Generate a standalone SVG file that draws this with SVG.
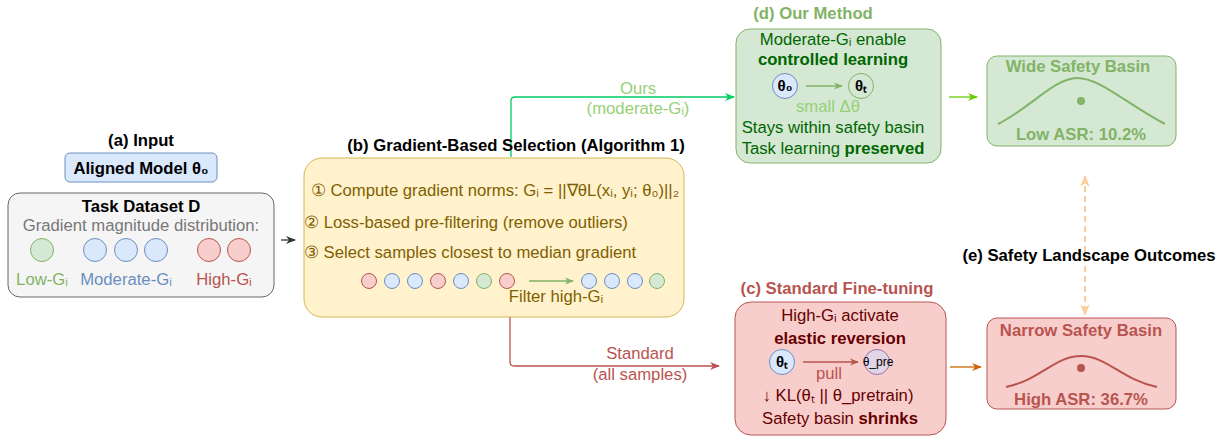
<svg xmlns="http://www.w3.org/2000/svg" width="1225" height="437" viewBox="0 0 1225 437">
<defs>
<style>
text{font-family:"Liberation Sans",Arial,sans-serif;font-size:16.7px;text-anchor:middle}
.b{font-weight:bold}
.blk{fill:#000}
.ol{fill:#7f6000}
.dg{fill:#006600}
.dr{fill:#660000}
.th{font-size:15px;font-weight:bold;fill:#000}
</style>
<marker id="mkG" viewBox="0 0 10 10" refX="9" refY="5" markerWidth="10" markerHeight="10" orient="auto" markerUnits="userSpaceOnUse"><path d="M0,1 L10,5 L0,9 L3,5 Z" fill="#00cc66"/></marker>
<marker id="mkR" viewBox="0 0 10 10" refX="9" refY="5" markerWidth="10" markerHeight="10" orient="auto" markerUnits="userSpaceOnUse"><path d="M0,1 L10,5 L0,9 L3,5 Z" fill="#b85450"/></marker>
<marker id="mkK" viewBox="0 0 10 10" refX="9" refY="5" markerWidth="10" markerHeight="10" orient="auto" markerUnits="userSpaceOnUse"><path d="M0,1 L10,5 L0,9 L3,5 Z" fill="#333"/></marker>
<marker id="mkL" viewBox="0 0 10 10" refX="9" refY="5" markerWidth="10" markerHeight="10" orient="auto" markerUnits="userSpaceOnUse"><path d="M0,1 L10,5 L0,9 L3,5 Z" fill="#66cc00"/></marker>
<marker id="mkO" viewBox="0 0 10 10" refX="9" refY="5" markerWidth="10" markerHeight="10" orient="auto" markerUnits="userSpaceOnUse"><path d="M0,1 L10,5 L0,9 L3,5 Z" fill="#cc6600"/></marker>
<marker id="mkP" viewBox="0 0 10 10" refX="9" refY="5" markerWidth="12" markerHeight="12" orient="auto-start-reverse" markerUnits="userSpaceOnUse"><path d="M0,1 L10,5 L0,9 L3,5 Z" fill="#ffcc99"/></marker>
<marker id="mkS" viewBox="0 0 10 10" refX="9" refY="5" markerWidth="9" markerHeight="9" orient="auto" markerUnits="userSpaceOnUse"><path d="M0,1 L10,5 L0,9 L3,5 Z" fill="#82b366"/></marker>
<marker id="mkSR" viewBox="0 0 10 10" refX="9" refY="5" markerWidth="9" markerHeight="9" orient="auto" markerUnits="userSpaceOnUse"><path d="M0,1 L10,5 L0,9 L3,5 Z" fill="#b85450"/></marker>
</defs>
<rect width="1225" height="437" fill="#fff"/>

<g id="connectors" fill="none" stroke-width="1.3">
<path d="M511,157 V101 Q511,97 515,97 H734" stroke="#00cc66" marker-end="url(#mkG)"/>
<path d="M510,317 V362 Q510,366 514,366 H719" stroke="#b85450" marker-end="url(#mkR)"/>
<path d="M281,240 H295" stroke="#333" marker-end="url(#mkK)"/>
<path d="M949,97 H977" stroke="#66cc00" marker-end="url(#mkL)"/>
<path d="M950,367 H981" stroke="#cc6600" marker-end="url(#mkO)"/>
<path d="M1085,176 V315" stroke="#ffcc99" stroke-width="2" stroke-dasharray="6,4" marker-start="url(#mkP)" marker-end="url(#mkP)"/>
<text x="638" y="94" fill="#97d077" stroke="none">Ours</text>
<text x="638" y="114" fill="#97d077" stroke="none">(moderate-Gᵢ)</text>
<text x="640" y="359" fill="#b85450" stroke="none">Standard</text>
<text x="640" y="380" fill="#b85450" stroke="none">(all samples)</text>
</g>

<g id="input">
<text x="141" y="146" class="b blk">(a) Input</text>
<rect x="65" y="153" width="152" height="29" rx="5" fill="#dae8fc" stroke="#6c8ebf"/>
<text x="141" y="174" class="b blk">Aligned Model θ₀</text>
</g>

<g id="dataset">
<rect x="8" y="193" width="266" height="104" rx="12" fill="#f5f5f5" stroke="#666"/>
<text x="141" y="212" class="b blk">Task Dataset D</text>
<text x="141" y="231" fill="#777">Gradient magnitude distribution:</text>
<circle cx="42" cy="250" r="11.5" fill="#d5e8d4" stroke="#82b366"/>
<circle cx="95" cy="250" r="11.5" fill="#dae8fc" stroke="#6c8ebf"/>
<circle cx="126" cy="250" r="11.5" fill="#dae8fc" stroke="#6c8ebf"/>
<circle cx="156" cy="250" r="11.5" fill="#dae8fc" stroke="#6c8ebf"/>
<circle cx="209" cy="250" r="11.5" fill="#f8cecc" stroke="#b85450"/>
<circle cx="239" cy="250" r="11.5" fill="#f8cecc" stroke="#b85450"/>
<text x="42" y="285" fill="#82b366">Low-Gᵢ</text>
<text x="126" y="285" fill="#6c8ebf">Moderate-Gᵢ</text>
<text x="224" y="285" fill="#b85450">High-Gᵢ</text>
</g>

<g id="selection">
<text x="516" y="151" class="b blk">(b) Gradient-Based Selection (Algorithm 1)</text>
<rect x="304" y="158" width="380" height="159" rx="18" fill="#fff2cc" stroke="#d6b656"/>
<text x="495" y="196" class="ol">① Compute gradient norms: Gᵢ = ||∇θL(xᵢ, yᵢ; θ₀)||₂</text>
<text x="466" y="228" class="ol">② Loss-based pre-filtering (remove outliers)</text>
<text x="470" y="258" class="ol">③ Select samples closest to median gradient</text>
<g stroke-width="1">
<circle cx="369" cy="281" r="7.5" fill="#f8cecc" stroke="#b85450"/>
<circle cx="392" cy="281" r="7.5" fill="#dae8fc" stroke="#6c8ebf"/>
<circle cx="415" cy="281" r="7.5" fill="#dae8fc" stroke="#6c8ebf"/>
<circle cx="438" cy="281" r="7.5" fill="#f8cecc" stroke="#b85450"/>
<circle cx="461" cy="281" r="7.5" fill="#dae8fc" stroke="#6c8ebf"/>
<circle cx="484" cy="281" r="7.5" fill="#d5e8d4" stroke="#82b366"/>
<circle cx="507" cy="281" r="7.5" fill="#f8cecc" stroke="#b85450"/>
<circle cx="589" cy="281" r="7.5" fill="#dae8fc" stroke="#6c8ebf"/>
<circle cx="612" cy="281" r="7.5" fill="#dae8fc" stroke="#6c8ebf"/>
<circle cx="635" cy="281" r="7.5" fill="#dae8fc" stroke="#6c8ebf"/>
<circle cx="657" cy="281" r="7.5" fill="#d5e8d4" stroke="#82b366"/>
</g>
<path d="M529,281 H573" stroke="#82b366" stroke-width="1.3" fill="none" marker-end="url(#mkS)"/>
<text x="556" y="302" class="ol">Filter high-Gᵢ</text>
</g>

<g id="ourmethod">
<text x="813" y="19" class="b" fill="#82b366">(d) Our Method</text>
<rect x="736" y="29" width="205" height="134" rx="14" fill="#d5e8d4" stroke="#82b366"/>
<text x="833" y="45" class="dg">Moderate-Gᵢ enable</text>
<text x="833" y="65" class="b dg">controlled learning</text>
<circle cx="785" cy="86" r="12.5" fill="#dae8fc" stroke="#6c8ebf"/>
<text x="785" y="91" class="th">θ₀</text>
<path d="M806,86 H842" stroke="#82b366" stroke-width="1.3" fill="none" marker-end="url(#mkS)"/>
<circle cx="861" cy="86" r="12.5" fill="#d5e8d4" stroke="#82b366"/>
<text x="861" y="91" class="th">θₜ</text>
<text x="828" y="112" fill="#97d077">small Δθ</text>
<text x="833" y="133" class="dg">Stays within safety basin</text>
<text x="833" y="154" class="dg">Task learning <tspan class="b">preserved</tspan></text>
</g>

<g id="standard">
<text x="837" y="294" class="b" fill="#b85450">(c) Standard Fine-tuning</text>
<rect x="735" y="302" width="211" height="133" rx="16" fill="#f8cecc" stroke="#b85450"/>
<text x="840" y="321" class="dr">High-Gᵢ activate</text>
<text x="840" y="344" class="b dr">elastic reversion</text>
<circle cx="782" cy="362" r="12.5" fill="#dae8fc" stroke="#6c8ebf"/>
<text x="782" y="367" class="th">θₜ</text>
<path d="M803,362 H858" stroke="#b85450" stroke-width="1.3" fill="none" marker-end="url(#mkSR)"/>
<circle cx="877" cy="362" r="12.5" fill="#e1d5e7" stroke="#9673a6"/>
<text x="878" y="366" class="blk" style="font-size:12px">θ_pre</text>
<text x="829" y="379" fill="#b85450">pull</text>
<text x="838" y="401" class="dr">↓ KL(θₜ || θ_pretrain)</text>
<text x="840" y="424" class="dr">Safety basin <tspan class="b">shrinks</tspan></text>
</g>

<g id="wide">
<rect x="987" y="56" width="189" height="90" rx="10" fill="#d5e8d4" stroke="#82b366"/>
<text x="1078" y="72" class="b" fill="#82b366">Wide Safety Basin</text>
<path d="M998,124 C1030,108 1055,78 1077,78 C1100,78 1125,103 1165,124" fill="none" stroke="#82b366" stroke-width="2"/>
<circle cx="1081" cy="101" r="4" fill="#82b366"/>
<text x="1081" y="140" class="b" fill="#82b366">Low ASR: 10.2%</text>
</g>

<g id="outcomes">
<text x="1089" y="261" class="b blk">(e) Safety Landscape Outcomes</text>
</g>

<g id="narrow">
<rect x="987" y="318" width="189" height="91" rx="10" fill="#f8cecc" stroke="#b85450"/>
<text x="1081" y="336" class="b" fill="#b85450">Narrow Safety Basin</text>
<path d="M1006,387 C1040,380 1055,356 1081,356 C1107,356 1122,380 1157,387" fill="none" stroke="#b85450" stroke-width="2"/>
<circle cx="1081" cy="368" r="4" fill="#b85450"/>
<text x="1081" y="405" class="b" fill="#b85450">High ASR: 36.7%</text>
</g>
</svg>
